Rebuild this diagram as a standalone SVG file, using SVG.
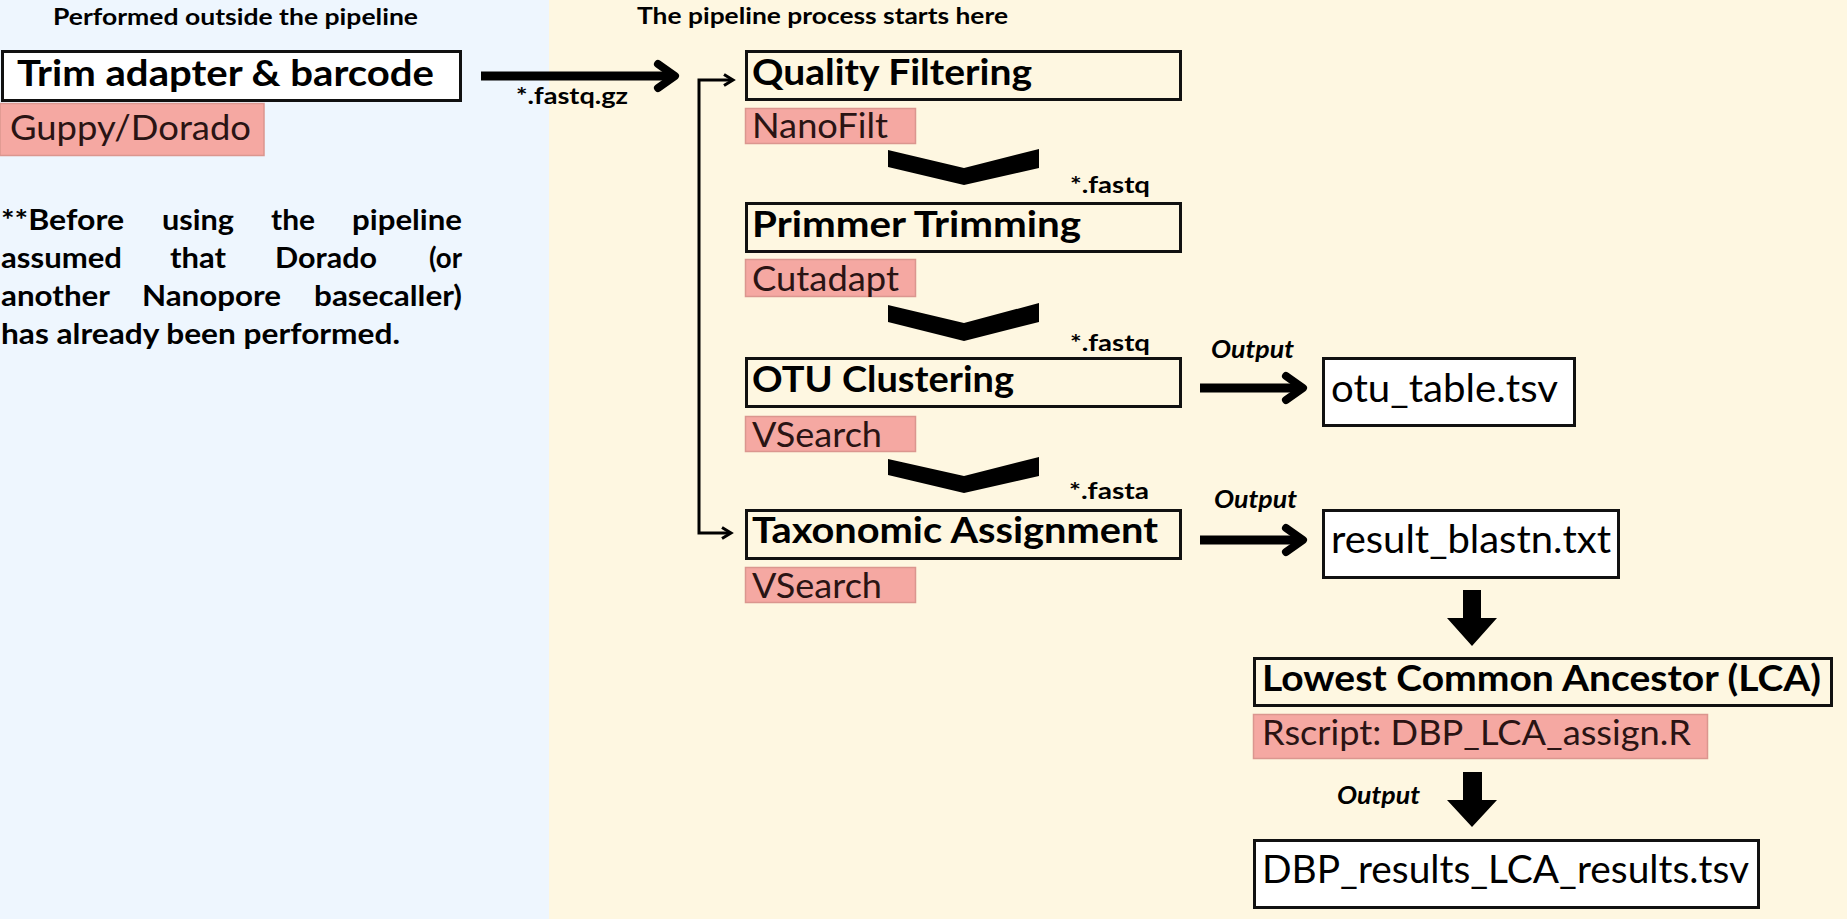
<svg xmlns="http://www.w3.org/2000/svg" width="1847" height="919" viewBox="0 0 1847 919">
<style>
  text { font-family: Lato, "Open Sans", "Liberation Sans", sans-serif; fill: #000; }
  .hdr { font-size: 23px; font-weight: 700; }
  .title { font-size: 37px; font-weight: 700; }
  .tag { font-size: 34px; font-weight: 400; fill: #2a1414; }
  .file { font-size: 38px; font-weight: 400; }
  .ext { font-size: 23px; font-weight: 700; }
  .out { font-size: 24px; font-weight: 700; font-style: italic; }
  .para { font-size: 29px; font-weight: 700; }
  .box { fill: none; stroke: #111; stroke-width: 3; }
  .wbox { fill: #fff; stroke: #111; stroke-width: 3; }
  .pink { fill: #F5A8A2; stroke: #DB968F; stroke-width: 1.5; }
  .thick { fill: none; stroke: #000; stroke-width: 9; }
  .head { fill: none; stroke: #000; stroke-width: 8; stroke-linecap: round; stroke-linejoin: round; }
  .thin { fill: none; stroke: #000; stroke-width: 3; }
  .solid { fill: #000; }
</style>

<!-- backgrounds -->
<rect x="0" y="0" width="549" height="919" fill="#EEF6FE"/>
<rect x="549" y="0" width="1298" height="919" fill="#FEF7E1"/>

<!-- section headers -->
<text class="hdr" x="53" y="25" textLength="365" lengthAdjust="spacingAndGlyphs">Performed outside the pipeline</text>
<text class="hdr" x="637" y="24" textLength="371" lengthAdjust="spacingAndGlyphs">The pipeline process starts here</text>

<!-- note paragraph -->
<g id="note">
  <text class="para" x="1" y="230" textLength="123" lengthAdjust="spacingAndGlyphs">**Before</text>
  <text class="para" x="162" y="230" textLength="72" lengthAdjust="spacingAndGlyphs">using</text>
  <text class="para" x="271" y="230" textLength="44" lengthAdjust="spacingAndGlyphs">the</text>
  <text class="para" x="352" y="230" textLength="110" lengthAdjust="spacingAndGlyphs">pipeline</text>
  <text class="para" x="1" y="268" textLength="121" lengthAdjust="spacingAndGlyphs">assumed</text>
  <text class="para" x="170" y="268" textLength="56" lengthAdjust="spacingAndGlyphs">that</text>
  <text class="para" x="275" y="268" textLength="102" lengthAdjust="spacingAndGlyphs">Dorado</text>
  <text class="para" x="429" y="268" textLength="33" lengthAdjust="spacingAndGlyphs">(or</text>
  <text class="para" x="1" y="306" textLength="109" lengthAdjust="spacingAndGlyphs">another</text>
  <text class="para" x="142" y="306" textLength="139" lengthAdjust="spacingAndGlyphs">Nanopore</text>
  <text class="para" x="314" y="306" textLength="148" lengthAdjust="spacingAndGlyphs">basecaller)</text>
  <text class="para" x="1" y="344" textLength="399" lengthAdjust="spacingAndGlyphs">has already been performed.</text>
</g>

<!-- nodes -->
<g id="trim">
  <rect class="wbox" x="2.5" y="51.5" width="458" height="49"/>
  <text class="title" x="17" y="86" textLength="417" lengthAdjust="spacingAndGlyphs">Trim adapter &amp; barcode</text>
  <rect class="pink" x="0" y="103.5" width="264" height="52"/>
  <text class="tag" x="10" y="140" textLength="241" lengthAdjust="spacingAndGlyphs">Guppy/Dorado</text>
</g>

<g id="quality-filtering">
  <rect class="box" x="746.5" y="51.5" width="434" height="48"/>
  <text class="title" x="752" y="85" textLength="280" lengthAdjust="spacingAndGlyphs">Quality Filtering</text>
  <rect class="pink" x="745.5" y="108.5" width="170" height="35"/>
  <text class="tag" x="752" y="138" textLength="136" lengthAdjust="spacingAndGlyphs">NanoFilt</text>
</g>

<g id="primer-trimming">
  <rect class="box" x="746.5" y="203.5" width="434" height="48"/>
  <text class="title" x="752" y="237" textLength="329" lengthAdjust="spacingAndGlyphs">Primmer Trimming</text>
  <rect class="pink" x="745.5" y="259.5" width="170" height="37"/>
  <text class="tag" x="752" y="291" textLength="147" lengthAdjust="spacingAndGlyphs">Cutadapt</text>
</g>

<g id="otu-clustering">
  <rect class="box" x="746.5" y="358.5" width="434" height="48"/>
  <text class="title" x="752" y="392" textLength="262" lengthAdjust="spacingAndGlyphs">OTU Clustering</text>
  <rect class="pink" x="745.5" y="416.5" width="170" height="35"/>
  <text class="tag" x="752" y="447" textLength="130" lengthAdjust="spacingAndGlyphs">VSearch</text>
</g>

<g id="taxonomic-assignment">
  <rect class="box" x="746.5" y="510.5" width="434" height="48"/>
  <text class="title" x="752" y="543" textLength="406" lengthAdjust="spacingAndGlyphs">Taxonomic Assignment</text>
  <rect class="pink" x="745.5" y="567.5" width="170" height="35"/>
  <text class="tag" x="752" y="598" textLength="130" lengthAdjust="spacingAndGlyphs">VSearch</text>
</g>

<g id="otu-table">
  <rect class="wbox" x="1323.5" y="358.5" width="251" height="67"/>
  <text class="file" x="1331" y="402" textLength="227" lengthAdjust="spacingAndGlyphs">otu_table.tsv</text>
</g>

<g id="result-blastn">
  <rect class="wbox" x="1323.5" y="510.5" width="295" height="67"/>
  <text class="file" x="1331" y="553" textLength="280" lengthAdjust="spacingAndGlyphs">result_blastn.txt</text>
</g>

<g id="lca">
  <rect class="box" x="1254.5" y="658.5" width="577" height="47"/>
  <text class="title" x="1262" y="691" textLength="559" lengthAdjust="spacingAndGlyphs">Lowest Common Ancestor (LCA)</text>
  <rect class="pink" x="1253.5" y="714.5" width="454" height="44"/>
  <text class="tag" x="1262" y="745" textLength="429" lengthAdjust="spacingAndGlyphs">Rscript: DBP_LCA_assign.R</text>
</g>

<g id="lca-results">
  <rect class="wbox" x="1254.5" y="840.5" width="504" height="67"/>
  <text class="file" x="1262" y="883" textLength="487" lengthAdjust="spacingAndGlyphs">DBP_results_LCA_results.tsv</text>
</g>

<!-- connectors -->
<g id="connectors">
  <!-- trim -> pipeline -->
  <line class="thick" x1="481" y1="76" x2="671" y2="76"/>
  <polyline class="head" points="658,64 675,76 658,88"/>
  <text class="ext" x="516" y="104" textLength="112" lengthAdjust="spacingAndGlyphs">*.fastq.gz</text>

  <!-- bracket feeding QF and Taxonomic -->
  <polyline class="thin" points="732,80 699,80 699,533 730,533"/>
  <polyline class="thin" points="724,74.5 733,80 724,85.5"/>
  <polyline class="thin" points="722,527.5 731,533 722,538.5"/>

  <!-- chevrons between steps -->
  <polygon class="solid" points="888,150 964,168 1039,149 1039,168 964,185 888,167"/>
  <text class="ext" x="1070" y="193" textLength="80" lengthAdjust="spacingAndGlyphs">*.fastq</text>
  <polygon class="solid" points="888,305 964,323 1039,303 1039,322 964,341 888,322"/>
  <text class="ext" x="1070" y="351" textLength="80" lengthAdjust="spacingAndGlyphs">*.fastq</text>
  <polygon class="solid" points="888,459 964,476 1039,457 1039,476 964,493 888,475"/>
  <text class="ext" x="1069" y="499" textLength="80" lengthAdjust="spacingAndGlyphs">*.fasta</text>

  <!-- OTU -> otu_table -->
  <line class="thick" x1="1200" y1="388" x2="1300" y2="388"/>
  <polyline class="head" points="1286,376 1303,388 1286,400"/>
  <text class="out" x="1211" y="358" textLength="83" lengthAdjust="spacingAndGlyphs">Output</text>

  <!-- Taxonomic -> result_blastn -->
  <line class="thick" x1="1200" y1="540" x2="1300" y2="540"/>
  <polyline class="head" points="1286,528 1303,540 1286,552"/>
  <text class="out" x="1214" y="508" textLength="83" lengthAdjust="spacingAndGlyphs">Output</text>

  <!-- result_blastn -> LCA -->
  <polygon class="solid" points="1463,590 1481,590 1481,618 1497,618 1472,646 1447,618 1463,618"/>

  <!-- LCA -> results -->
  <polygon class="solid" points="1463,772 1482,772 1482,800 1497,800 1472,827 1447,800 1463,800"/>
  <text class="out" x="1337" y="804" textLength="83" lengthAdjust="spacingAndGlyphs">Output</text>
</g>
</svg>
